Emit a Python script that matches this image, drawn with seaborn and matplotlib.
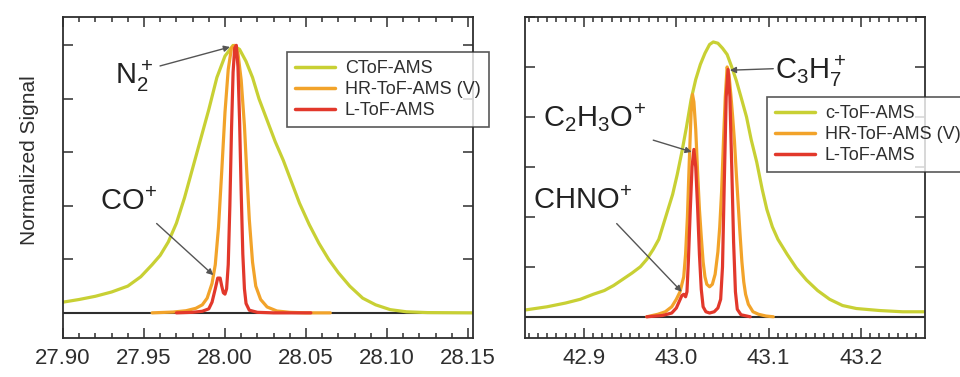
import pandas as pd
import numpy as np
import seaborn as sns
import matplotlib.pyplot as plt
from matplotlib.ticker import MultipleLocator

# ---- m/z 28 panel ----
n2_ctof_mz = [27.900, 27.910, 27.920, 27.930, 27.940, 27.948, 27.955, 27.960, 27.965, 27.970,
              27.975, 27.980, 27.985, 27.990, 27.995, 28.000, 28.005, 28.009, 28.013, 28.017,
              28.021, 28.026, 28.031, 28.036, 28.041, 28.046, 28.052, 28.058, 28.064, 28.070,
              28.077, 28.085, 28.093, 28.102, 28.112, 28.125, 28.153]
n2_ctof_sig = [0.040, 0.050, 0.062, 0.078, 0.100, 0.135, 0.180, 0.215, 0.265, 0.335,
               0.430, 0.540, 0.650, 0.760, 0.880, 0.960, 1.000, 0.985, 0.940, 0.880,
               0.800, 0.720, 0.640, 0.570, 0.490, 0.410, 0.330, 0.260, 0.200, 0.150,
               0.100, 0.055, 0.030, 0.012, 0.004, 0.001, 0.000]

n2_hr_mz = [27.955, 27.968, 27.976, 27.982, 27.986, 27.989, 27.992, 27.994, 27.996, 27.998,
            28.000, 28.002, 28.004, 28.006, 28.008, 28.010, 28.012, 28.0135, 28.015, 28.017,
            28.019, 28.022, 28.026, 28.032, 28.040, 28.050, 28.065]
n2_hr_sig = [0.000, 0.003, 0.008, 0.017, 0.030, 0.055, 0.110, 0.180, 0.320, 0.530,
             0.750, 0.910, 0.990, 1.000, 0.970, 0.870, 0.700, 0.520, 0.350, 0.190,
             0.100, 0.050, 0.022, 0.007, 0.002, 0.000, 0.000]

n2_l_mz = [27.970, 27.980, 27.986, 27.990, 27.992, 27.994, 27.9955, 27.997, 27.998, 27.999,
           28.000, 28.001, 28.002, 28.003, 28.004, 28.005, 28.006, 28.007, 28.008, 28.009,
           28.010, 28.011, 28.012, 28.013, 28.015, 28.020, 28.030, 28.053]
n2_l_sig = [0.000, 0.002, 0.006, 0.015, 0.040, 0.090, 0.130, 0.130, 0.100, 0.075,
            0.070, 0.090, 0.180, 0.400, 0.680, 0.900, 0.990, 1.000, 0.920, 0.720,
            0.450, 0.220, 0.090, 0.035, 0.010, 0.002, 0.000, 0.000]

# ---- m/z 43 panel ----
m43_ctof_mz = [42.836, 42.860, 42.880, 42.896, 42.910, 42.922, 42.932, 42.942, 42.952, 42.961,
               42.968, 42.975, 42.981, 42.986, 42.991, 42.996, 43.001, 43.006, 43.011, 43.016,
               43.021, 43.026, 43.031, 43.036, 43.040, 43.045, 43.050, 43.055, 43.060, 43.065,
               43.070, 43.076, 43.081, 43.087, 43.093, 43.098, 43.104, 43.110, 43.120, 43.130,
               43.141, 43.153, 43.166, 43.180, 43.195, 43.220, 43.245, 43.269]
m43_ctof_sig = [0.027, 0.040, 0.055, 0.070, 0.090, 0.105, 0.125, 0.150, 0.175, 0.200,
                0.230, 0.270, 0.310, 0.370, 0.430, 0.490, 0.570, 0.660, 0.760, 0.870,
                0.950, 1.010, 1.055, 1.090, 1.100, 1.095, 1.075, 1.050, 1.000, 0.945,
                0.880, 0.800, 0.710, 0.620, 0.510, 0.430, 0.360, 0.310, 0.250, 0.195,
                0.147, 0.105, 0.070, 0.045, 0.033, 0.025, 0.020, 0.020]

m43_hr_mz = [42.968, 42.980, 42.988, 42.995, 43.000, 43.004, 43.008, 43.010, 43.012, 43.014,
             43.016, 43.0175, 43.019, 43.021, 43.023, 43.025, 43.027, 43.029, 43.031, 43.033,
             43.036, 43.039, 43.042, 43.045, 43.047, 43.049, 43.051, 43.053, 43.055, 43.057,
             43.059, 43.061, 43.063, 43.065, 43.067, 43.069, 43.071, 43.073, 43.075, 43.078,
             43.083, 43.089, 43.097, 43.105]
m43_hr_sig = [0.000, 0.010, 0.020, 0.040, 0.070, 0.100, 0.160, 0.250, 0.400, 0.620,
              0.820, 0.890, 0.860, 0.750, 0.580, 0.430, 0.320, 0.220, 0.160, 0.130,
              0.120, 0.130, 0.170, 0.260, 0.360, 0.500, 0.700, 0.880, 1.000, 0.970,
              0.890, 0.800, 0.700, 0.570, 0.450, 0.330, 0.220, 0.140, 0.090, 0.050,
              0.020, 0.010, 0.003, 0.000]

m43_l_mz = [42.968, 42.985, 42.995, 43.000, 43.003, 43.006, 43.008, 43.010, 43.0115, 43.013,
            43.015, 43.017, 43.019, 43.021, 43.023, 43.025, 43.027, 43.029, 43.032, 43.036,
            43.041, 43.045, 43.048, 43.050, 43.052, 43.054, 43.056, 43.058, 43.060, 43.062,
            43.064, 43.066, 43.070, 43.080]
m43_l_sig = [0.000, 0.005, 0.015, 0.035, 0.060, 0.085, 0.090, 0.080, 0.100, 0.220,
             0.420, 0.600, 0.670, 0.600, 0.440, 0.250, 0.110, 0.040, 0.020, 0.015,
             0.020, 0.035, 0.070, 0.200, 0.550, 0.880, 0.990, 0.880, 0.600, 0.300,
             0.100, 0.030, 0.008, 0.000]

colors = {'ctof': '#c8d034', 'hr': '#f2a32a', 'l': '#e2382b'}
ink = '#2e2e2e'

sns.set_theme(style='ticks')
plt.rcParams['font.family'] = ['Liberation Sans', 'DejaVu Sans']
plt.rcParams['mathtext.fontset'] = 'custom'
plt.rcParams['mathtext.rm'] = 'Liberation Sans'
plt.rcParams['mathtext.default'] = 'regular'

fig = plt.figure(figsize=(9.6, 3.77), dpi=100)
fig.patch.set_facecolor('white')
axL = fig.add_axes([63/960, 39/377, 410/960, 321/377])
axR = fig.add_axes([525/960, 39/377, 400/960, 321/377])


def draw_panel(ax, series, labels):
    ax.axhline(0, color=ink, lw=1.5, zorder=1)
    for (mz, sig, key), lab in zip(series, labels):
        df = pd.DataFrame({'mz': mz, 'signal': sig})
        sns.lineplot(data=df, x='mz', y='signal', ax=ax, color=colors[key], lw=2.3,
                     sort=False, estimator=None, label=lab, zorder=2)
    ax.set_xlabel('')
    ax.set_ylabel('')
    ax.yaxis.set_major_locator(MultipleLocator(0.2))
    ax.xaxis.set_minor_locator(MultipleLocator(0.01))
    ax.tick_params(axis='both', which='both', direction='in', top=True, right=True,
                   color=ink, width=1.1)
    ax.tick_params(axis='both', which='major', length=7)
    ax.tick_params(axis='x', which='minor', length=3.5)
    ax.tick_params(axis='x', labelsize=16, labelcolor=ink, pad=7)
    ax.tick_params(axis='y', labelleft=False)
    for s in ax.spines.values():
        s.set_color(ink)
        s.set_linewidth(1.3)


def add_legend(ax, anchor):
    leg = ax.legend(loc='upper left', bbox_to_anchor=anchor, borderaxespad=0,
                    fontsize=13, frameon=True, fancybox=False, handlelength=2.2,
                    handletextpad=0.55, labelspacing=0.22, borderpad=0.45)
    leg.get_frame().set_edgecolor(ink)
    leg.get_frame().set_linewidth(1.2)
    for t in leg.get_texts():
        t.set_color(ink)
    for h in leg.get_lines():
        h.set_linewidth(2.5)
    leg.set_clip_on(False)


arrow = dict(arrowstyle='-|>', color='#555555', lw=1.0, mutation_scale=9, shrinkA=0, shrinkB=0)
txt = dict(fontsize=21, color='#222222', ha='center', va='center')

# left panel
draw_panel(axL, [(n2_ctof_mz, n2_ctof_sig, 'ctof'), (n2_hr_mz, n2_hr_sig, 'hr'),
                 (n2_l_mz, n2_l_sig, 'l')],
           ['CToF-AMS', 'HR-ToF-AMS (V)', 'L-ToF-AMS'])
axL.set_xlim(27.90, 28.1531)
axL.set_ylim(-0.094, 1.106)
axL.set_xticks([27.90, 27.95, 28.00, 28.05, 28.10, 28.15])
axL.set_xticklabels(['27.90', '27.95', '28.00', '28.05', '28.10', '28.15'])
add_legend(axL, (0.546, 0.891))
axL.text(27.9438, 0.884, r'$N_2^+$', **txt)
axL.text(27.9404, 0.416, r'$CO^{\!+}$', **txt)
axL.annotate('', xy=(28.0031, 0.994), xytext=(27.9599, 0.923), arrowprops=arrow)
axL.annotate('', xy=(27.9928, 0.141), xytext=(27.9578, 0.334), arrowprops=arrow)

# right panel
draw_panel(axR, [(m43_ctof_mz, m43_ctof_sig, 'ctof'), (m43_hr_mz, m43_hr_sig, 'hr'),
                 (m43_l_mz, m43_l_sig, 'l')],
           ['c-ToF-AMS', 'HR-ToF-AMS (V)', 'L-ToF-AMS'])
axR.set_xlim(42.8361, 43.2693)
axR.set_ylim(-0.085, 1.2)
axR.set_xticks([42.9, 43.0, 43.1, 43.2])
axR.set_xticklabels(['42.9', '43.0', '43.1', '43.2'])
add_legend(axR, (0.605, 0.751))
axR.text(43.1459, 0.983, r'$C_3H_7^+$', **txt)
axR.text(42.9119, 0.797, r'$C_2H_3O^{\!+}$', **txt)
axR.text(42.8989, 0.463, r'$CHNO^{\!+}$', **txt)
axR.annotate('', xy=(43.058, 0.987), xytext=(43.105, 0.993), arrowprops=arrow)
axR.annotate('', xy=(43.0166, 0.66), xytext=(42.975, 0.707), arrowprops=arrow)
axR.annotate('', xy=(43.0058, 0.10), xytext=(42.9354, 0.373), arrowprops=arrow)

fig.text(30/960, 1 - 160/377, 'Normalized Signal', rotation=90, fontsize=15,
         color=ink, ha='center', va='center')

fig.savefig('out.png', dpi=100, facecolor='white')
